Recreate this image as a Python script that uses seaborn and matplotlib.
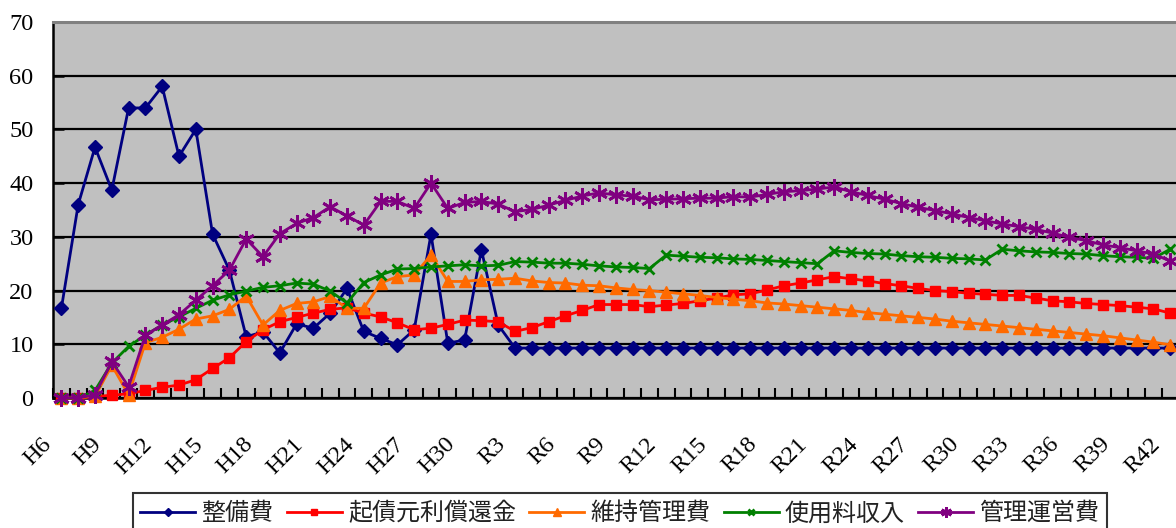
import matplotlib
matplotlib.use("Agg")
import matplotlib.pyplot as plt
from matplotlib.transforms import ScaledTranslation
import seaborn as sns
import numpy as np

# Fiscal years: Heisei 6-30, then Reiwa 1-42
years = [f"H{n}" for n in range(6, 31)] + [f"R{n}" for n in range(1, 43)]

seibi = [16.7, 36.0, 46.7, 38.7, 54.0, 54.0, 58.0, 45.0, 50.0, 30.5,
         23.8, 11.4, 12.3, 8.4, 13.8, 13.0, 15.8, 20.4, 12.4, 11.1,
         9.9, 12.7, 30.5, 10.2, 10.8, 27.6, 13.6, 9.3] + [9.3] * 39

kisai = [0.0, 0.0, 0.3, 0.5, 0.8, 1.4, 2.0, 2.4, 3.4, 5.5,
         7.5, 10.5, 12.7, 14.2, 15.0, 15.8, 16.5, 16.8, 15.8, 15.1,
         14.0, 12.7, 13.0, 13.7, 14.5, 14.4, 14.2, 12.4, 13.1, 14.2,
         15.3, 16.3, 17.4, 17.4, 17.4, 17.0, 17.3, 17.6, 18.1, 18.6,
         19.2, 19.4, 20.1, 20.9, 21.4, 22.0, 22.6, 22.2, 21.8, 21.3,
         20.9, 20.4, 20.0, 19.8, 19.5, 19.3, 19.1, 19.1, 18.6, 18.1,
         17.9, 17.6, 17.4, 17.2, 16.9, 16.6, 15.8]

iji = [0.0, 0.0, 0.3, 6.1, 0.6, 10.3, 11.3, 12.8, 14.7, 15.3,
       16.5, 19.0, 13.6, 16.3, 17.6, 17.9, 18.9, 16.7, 16.7, 21.4,
       22.6, 22.9, 26.6, 21.7, 21.7, 22.0, 22.1, 22.3, 21.8, 21.5,
       21.4, 21.0, 20.9, 20.5, 20.2, 20.0, 19.7, 19.4, 19.1, 18.7,
       18.4, 18.1, 17.7, 17.5, 17.2, 16.9, 16.6, 16.3, 15.9, 15.6,
       15.3, 15.0, 14.7, 14.3, 14.0, 13.7, 13.4, 13.1, 12.8, 12.5,
       12.2, 11.9, 11.6, 11.2, 10.8, 10.4, 9.9]

shiyo = [0.0, 0.0, 1.4, 6.5, 9.6, 11.7, 13.6, 15.1, 16.7, 18.2,
         19.2, 19.9, 20.6, 20.9, 21.4, 21.2, 19.9, 17.7, 21.5, 22.9,
         24.0, 24.1, 24.4, 24.6, 24.8, 24.6, 24.7, 25.4, 25.3, 25.1,
         25.1, 24.9, 24.6, 24.4, 24.3, 24.1, 26.6, 26.4, 26.2, 26.1,
         25.9, 25.8, 25.6, 25.4, 25.2, 25.0, 27.4, 27.1, 26.9, 26.8,
         26.5, 26.3, 26.2, 26.0, 25.9, 25.7, 27.7, 27.4, 27.2, 27.1,
         26.9, 26.8, 26.5, 26.3, 26.2, 26.0, 27.7]

kanri = [0.0, 0.0, 0.6, 6.8, 2.1, 11.7, 13.6, 15.5, 18.2, 20.9,
         23.8, 29.6, 26.3, 30.6, 32.5, 33.6, 35.6, 33.9, 32.2, 36.6,
         36.6, 35.3, 40.0, 35.3, 36.4, 36.6, 36.1, 34.7, 35.1, 35.9,
         36.8, 37.6, 38.2, 37.8, 37.6, 36.9, 37.0, 37.1, 37.2, 37.2,
         37.5, 37.4, 37.9, 38.4, 38.6, 38.9, 39.3, 38.4, 37.7, 37.0,
         36.2, 35.5, 34.9, 34.3, 33.6, 33.0, 32.4, 31.9, 31.4, 30.7,
         29.9, 29.3, 28.5, 28.0, 27.4, 26.8, 25.5]

series_names = ["整備費", "起債元利償還金", "維持管理費", "使用料収入", "管理運営費"]
series_values = [seibi, kisai, iji, shiyo, kanri]
series_colors = ["#000080", "#FF0000", "#FF6A00", "#008000", "#800080"]
series_markers = ["D", "s", "^", "x", (6, 2, 0)]
marker_sizes = [7, 7.5, 8.5, 7.5, 12]
edge_widths = [1, 1, 1, 2, 2]

W, H, DPI = 1176, 528, 100
fig = plt.figure(figsize=(W / DPI, H / DPI), dpi=DPI)
fig.patch.set_facecolor("white")

n = len(years)
unit = 16.8
ax_left, ax_bottom, ax_top = 53, 398, 22
ax = fig.add_axes([ax_left / W, (H - ax_bottom) / H,
                   n * unit / W, (ax_bottom - ax_top) / H])
ax.set_facecolor("#C0C0C0")

idx = np.arange(n)
for name, vals, col, mk, ms, mew in zip(series_names, series_values, series_colors,
                                        series_markers, marker_sizes, edge_widths):
    sns.lineplot(x=idx, y=vals, ax=ax, color=col, marker=mk, markersize=ms,
                 markeredgewidth=mew, markeredgecolor=col, markerfacecolor=col,
                 linewidth=2.0, label=name, clip_on=False, zorder=3)

ax.set_xlim(-0.5, n - 0.5)
ax.set_ylim(0, 70)
ax.set_xlabel("")
ax.set_ylabel("")

# horizontal gridlines
ax.set_yticks(np.arange(0, 71, 10))
ax.yaxis.grid(True, color="black", linewidth=1.6)
ax.xaxis.grid(False)
ax.set_axisbelow(True)

for side in ("left", "bottom"):
    ax.spines[side].set_color("black")
    ax.spines[side].set_linewidth(1.8)
ax.spines["top"].set_color("#808080")
ax.spines["top"].set_linewidth(2.2)
ax.spines["right"].set_visible(False)

serif = "Liberation Serif"
ax.tick_params(axis="y", direction="in", length=8, width=1.8, pad=14,
               labelsize=17.5, colors="black")
for lbl in ax.get_yticklabels():
    lbl.set_fontfamily(serif)

# category labels every 3 years, tick marks at category boundaries
ax.set_xticks(idx[::3])
ax.set_xticklabels(years[::3], fontfamily=serif, fontsize=17.5,
                   rotation=45, ha="right", va="center", rotation_mode="anchor")
ax.set_xticks(idx - 0.5, minor=True)
ax.tick_params(axis="x", which="major", length=0, pad=31)
ax.tick_params(axis="x", which="minor", direction="in", length=7, width=1.5,
               colors="black")
shift = ScaledTranslation(-13 / DPI, 0, fig.dpi_scale_trans)
for lbl in ax.get_xticklabels():
    lbl.set_transform(lbl.get_transform() + shift)

handles, labels = ax.get_legend_handles_labels()
ax.get_legend().remove()
leg = fig.legend(handles, labels, loc="upper left",
                 bbox_to_anchor=(133 / W, 1 - 493 / H), borderaxespad=0,
                 ncol=5, frameon=True, fancybox=False, edgecolor="black",
                 handlelength=2.3, handletextpad=0.25, columnspacing=0.55,
                 borderpad=0.3, markerscale=0.65,
                 prop={"family": ["Noto Sans CJK JP", "DejaVu Sans"], "size": 17.3})
leg.get_frame().set_linewidth(1.5)
for t in leg.get_texts():
    t.set_color("#222222")

fig.savefig("out.png", dpi=DPI)
